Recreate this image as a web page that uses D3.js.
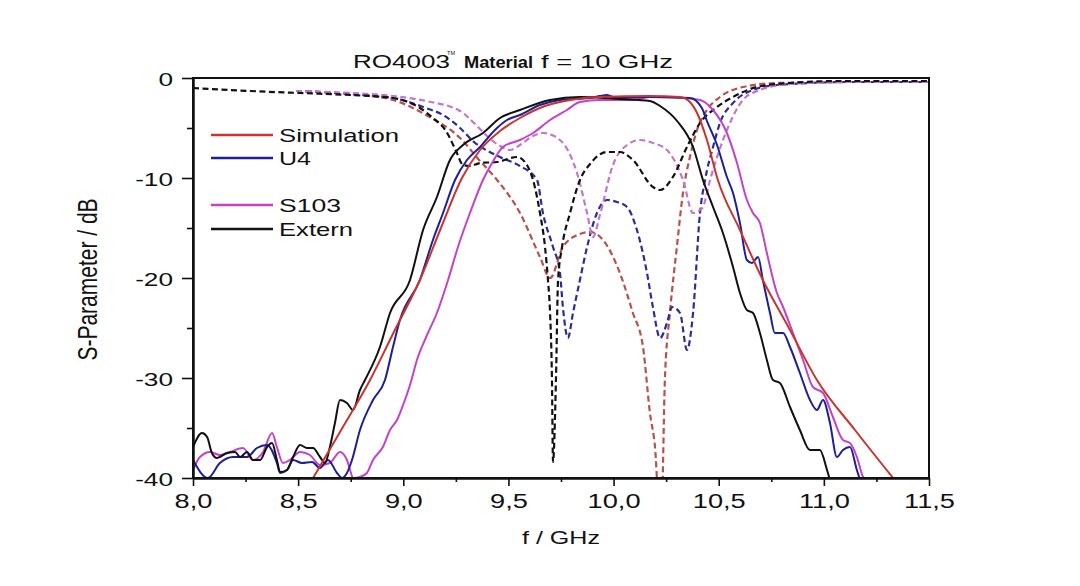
<!DOCTYPE html>
<html><head><meta charset="utf-8">
<script src="https://cdn.jsdelivr.net/npm/d3@7"></script>
<style>body{margin:0;background:#fff}svg{display:block}</style>
</head><body>
<svg id="c" width="1080" height="586"></svg>
<script>
// ---------- data ----------
const xTicks = [8.0, 8.5, 9.0, 9.5, 10.0, 10.5, 11.0, 11.5];
const xMinor = [8.25, 8.75, 9.25, 9.75, 10.25, 10.75, 11.25];
const yTicks = [0, -10, -20, -30, -40];
const yMinor = [-5, -15, -25, -35];
const seriesNames = ["Simulation", "U4", "S103", "Extern"];

// transmission (solid)
const simS21 = [[8.571,-40],[8.699,-35.4],[8.842,-30.2],[8.960,-25.2],[9.079,-20.2],[9.179,-15.0],[9.279,-10.0],[9.365,-7.2],[9.460,-5.3],[9.555,-4.0],[9.674,-2.8],[9.793,-2.2],[9.935,-1.9],[10.173,-1.8],[10.316,-1.9],[10.363,-2.4],[10.397,-3.5],[10.444,-6.2],[10.496,-10.2],[10.601,-15.2],[10.710,-20.2],[10.839,-25.2],[10.967,-30.2],[11.148,-35.2],[11.329,-40]];
const u4S21 = [[8.000,-38.2],[8.071,-40.0],[8.128,-38.5],[8.190,-37.9],[8.257,-37.9],[8.304,-37.0],[8.352,-36.7],[8.399,-38.5],[8.414,-39.5],[8.447,-39.2],[8.476,-38.2],[8.518,-38.5],[8.566,-38.4],[8.604,-39.0],[8.642,-38.2],[8.685,-39.5],[8.709,-40.0],[8.732,-39.5],[8.756,-38.2],[8.794,-35.2],[8.856,-32.2],[8.913,-30.2],[8.951,-26.9],[8.984,-24.2],[9.079,-20.2],[9.141,-16.2],[9.189,-13.5],[9.246,-10.2],[9.303,-8.2],[9.365,-6.9],[9.436,-5.2],[9.493,-4.2],[9.555,-3.7],[9.650,-2.7],[9.745,-2.2],[9.888,-2.0],[9.935,-1.8],[9.969,-1.7],[10.011,-2.0],[10.173,-1.9],[10.363,-2.0],[10.420,-3.0],[10.444,-4.3],[10.492,-6.7],[10.539,-9.9],[10.568,-11.5],[10.601,-14.5],[10.634,-18.2],[10.658,-18.5],[10.687,-17.9],[10.710,-20.2],[10.744,-23.5],[10.767,-25.5],[10.806,-25.5],[10.839,-26.9],[10.886,-29.5],[10.934,-32.2],[10.967,-33.2],[10.996,-32.2],[11.029,-34.5],[11.062,-37.9],[11.091,-37.2],[11.124,-36.9],[11.157,-39.2],[11.172,-40.2]];
const s103S21 = [[8.000,-39.2],[8.033,-37.9],[8.081,-37.4],[8.128,-37.7],[8.176,-37.4],[8.238,-37.0],[8.285,-38.2],[8.333,-37.4],[8.376,-35.5],[8.399,-36.9],[8.428,-38.5],[8.461,-38.2],[8.509,-37.4],[8.556,-37.7],[8.604,-38.7],[8.651,-38.5],[8.699,-37.4],[8.732,-38.2],[8.747,-39.2],[8.761,-40.0],[8.794,-39.9],[8.827,-39.5],[8.856,-38.2],[8.903,-36.9],[8.937,-35.2],[8.970,-34.2],[8.999,-32.7],[9.032,-30.7],[9.065,-28.2],[9.113,-25.7],[9.160,-23.5],[9.213,-20.2],[9.260,-16.9],[9.317,-13.5],[9.379,-10.2],[9.422,-8.5],[9.474,-6.9],[9.555,-6.2],[9.617,-5.5],[9.698,-4.2],[9.778,-3.2],[9.840,-2.4],[9.935,-2.2],[10.092,-2.2],[10.173,-1.9],[10.330,-2.0],[10.411,-2.2],[10.473,-3.2],[10.539,-5.5],[10.587,-8.5],[10.634,-12.2],[10.663,-13.5],[10.696,-14.5],[10.729,-17.5],[10.777,-21.5],[10.806,-22.9],[10.853,-25.5],[10.901,-28.2],[10.948,-30.9],[10.996,-31.5],[11.043,-33.9],[11.091,-36.2],[11.124,-36.5],[11.157,-37.9],[11.186,-39.9],[11.200,-40.4]];
const externS21 = [[8.000,-36.9],[8.043,-35.5],[8.067,-35.9],[8.090,-37.5],[8.114,-38.0],[8.162,-37.5],[8.200,-37.4],[8.224,-37.9],[8.257,-37.4],[8.285,-38.2],[8.319,-38.2],[8.352,-36.9],[8.376,-36.5],[8.399,-38.2],[8.414,-39.4],[8.447,-39.2],[8.476,-37.9],[8.509,-36.7],[8.542,-37.0],[8.571,-37.0],[8.604,-37.9],[8.628,-38.5],[8.651,-36.9],[8.675,-34.5],[8.699,-32.2],[8.732,-32.5],[8.761,-33.2],[8.794,-31.2],[8.818,-30.2],[8.889,-26.9],[8.937,-23.5],[9.032,-20.2],[9.094,-15.2],[9.160,-11.9],[9.222,-8.2],[9.284,-6.7],[9.379,-5.5],[9.460,-4.0],[9.555,-3.2],[9.698,-2.2],[9.840,-1.9],[10.030,-2.1],[10.173,-2.3],[10.221,-2.8],[10.306,-4.4],[10.378,-6.9],[10.425,-10.2],[10.473,-12.9],[10.520,-15.5],[10.568,-18.9],[10.601,-21.5],[10.634,-23.2],[10.663,-23.5],[10.696,-25.5],[10.729,-28.2],[10.758,-30.2],[10.791,-30.5],[10.839,-32.9],[10.886,-35.2],[10.934,-37.2],[10.981,-37.2],[11.015,-39.2],[11.029,-40.2]];

// reflection (dashed)
const simS11 = [[8.490,-1.3],[8.747,-1.6],[8.951,-2.2],[9.108,-3.7],[9.270,-6.0],[9.365,-8.3],[9.446,-10.2],[9.555,-13.5],[9.650,-17.9],[9.698,-20.0],[9.759,-16.9],[9.840,-15.6],[9.888,-15.4],[9.950,-16.2],[10.030,-19.5],[10.092,-23.5],[10.140,-26.9],[10.173,-33.5],[10.197,-36.9],[10.225,-46],[10.244,-30.2],[10.268,-23.5],[10.301,-16.9],[10.330,-11.5],[10.363,-7.9],[10.397,-5.2],[10.444,-3.2],[10.506,-1.9],[10.615,-0.9],[10.777,-0.5],[11.124,-0.4],[11.505,-0.4]];
const u4S11 = [[8.490,-1.3],[8.747,-1.6],[8.951,-2.0],[9.108,-3.0],[9.189,-3.7],[9.270,-5.0],[9.331,-6.3],[9.460,-7.9],[9.555,-8.8],[9.636,-10.2],[9.664,-13.5],[9.712,-16.9],[9.745,-19.5],[9.759,-22.9],[9.783,-26.0],[9.807,-23.5],[9.840,-20.2],[9.874,-16.9],[9.921,-13.5],[9.969,-12.2],[10.016,-12.4],[10.064,-12.9],[10.111,-15.2],[10.159,-19.5],[10.187,-22.9],[10.221,-26.0],[10.254,-24.5],[10.278,-22.9],[10.316,-23.5],[10.349,-27.2],[10.378,-23.5],[10.411,-13.5],[10.435,-10.2],[10.473,-6.9],[10.506,-4.5],[10.568,-2.5],[10.663,-1.2],[10.777,-0.7],[11.124,-0.4],[11.505,-0.4]];
const s103S11 = [[8.490,-1.3],[8.747,-1.5],[8.951,-1.8],[9.108,-2.3],[9.270,-3.3],[9.346,-4.7],[9.393,-5.7],[9.460,-6.8],[9.507,-7.2],[9.555,-6.7],[9.617,-5.8],[9.664,-5.5],[9.745,-6.2],[9.826,-9.5],[9.874,-13.5],[9.902,-15.9],[9.935,-13.7],[9.997,-8.7],[10.064,-6.7],[10.126,-6.2],[10.187,-6.5],[10.254,-7.2],[10.330,-10.2],[10.378,-13.5],[10.411,-13.2],[10.425,-12.9],[10.459,-10.2],[10.539,-5.2],[10.615,-2.2],[10.696,-1.2],[10.839,-0.6],[11.124,-0.4],[11.505,-0.4]];
const externS11 = [[8.000,-1.0],[8.271,-1.3],[8.509,-1.5],[8.747,-1.7],[8.951,-2.0],[9.079,-3.0],[9.141,-4.0],[9.203,-5.3],[9.251,-7.3],[9.284,-8.7],[9.317,-8.8],[9.365,-8.5],[9.446,-8.4],[9.541,-7.9],[9.588,-8.7],[9.617,-10.2],[9.650,-13.5],[9.674,-16.9],[9.688,-20.2],[9.698,-23.5],[9.707,-30.2],[9.712,-38.4],[9.726,-30.2],[9.736,-20.2],[9.755,-16.9],[9.793,-13.5],[9.840,-10.2],[9.888,-8.6],[9.969,-7.4],[10.030,-7.4],[10.092,-8.2],[10.187,-10.9],[10.221,-11.2],[10.282,-9.9],[10.349,-6.9],[10.411,-4.5],[10.492,-2.9],[10.568,-1.9],[10.682,-0.9],[10.839,-0.5],[11.077,-0.3],[11.505,-0.3]];

// ---------- drawing ----------
const FONT = "'Liberation Sans', Arial, sans-serif";
const svg = d3.select("#c");
const x = d3.scaleLinear().domain([8, 11.5]).range([193, 929]);
const y = d3.scaleLinear().domain([-40, 0]).range([478, 78]);

const solidCol = {Simulation:"#c8352e", U4:"#1e1e98", S103:"#c442c8", Extern:"#111111"};
const dashCol  = {Simulation:"#b8504c", U4:"#2c2c9c", S103:"#c276cc", Extern:"#111111"};

svg.append("defs").append("clipPath").attr("id","plot")
  .append("rect").attr("x",193).attr("y",78).attr("width",736).attr("height",400);

const line = d3.line().x(d => x(d[0])).y(d => y(d[1])).curve(d3.curveMonotoneX);
const plot = svg.append("g").attr("clip-path","url(#plot)");

const dashed = [["Simulation",simS11],["U4",u4S11],["S103",s103S11],["Extern",externS11]];
const solid  = [["S103",s103S21],["U4",u4S21],["Extern",externS21],["Simulation",simS21]];

dashed.forEach(([n,d]) => plot.append("path").datum(d).attr("d",line)
  .attr("fill","none").attr("stroke",dashCol[n]).attr("stroke-width",2.2)
  .attr("stroke-dasharray","6,3.5"));
solid.forEach(([n,d]) => plot.append("path").datum(d).attr("d",line)
  .attr("fill","none").attr("stroke",solidCol[n]).attr("stroke-width",2));

// frame
svg.append("rect").attr("x",193).attr("y",78).attr("width",736).attr("height",400)
  .attr("fill","none").attr("stroke","#111").attr("stroke-width",2);

// axes
const fmtX = d => d.toFixed(1).replace(".", ",");
const gx = svg.append("g").attr("transform","translate(0,478)")
  .call(d3.axisBottom(x).tickValues(xTicks).tickSize(8).tickSizeOuter(0).tickFormat(fmtX));
gx.append("g").call(d3.axisBottom(x).tickValues(xMinor).tickSize(4).tickSizeOuter(0).tickFormat(""));
const gy = svg.append("g").attr("transform","translate(193,0)")
  .call(d3.axisLeft(y).tickValues(yTicks).tickSize(11).tickSizeOuter(0).tickFormat(d => String(d)));
gy.append("g").call(d3.axisLeft(y).tickValues(yMinor).tickSize(6).tickSizeOuter(0).tickFormat(""));

[gx, gy].forEach(g => {
  g.selectAll("path.domain").attr("stroke","#111").attr("stroke-width",2);
  g.selectAll(".tick line").attr("stroke","#111").attr("stroke-width",1.6);
  g.attr("font-family", FONT);
});
gx.selectAll(".tick text").attr("y",0).attr("dy",null).attr("fill","#111")
  .attr("font-size",20).attr("text-anchor","middle")
  .attr("transform","translate(0,30) scale(1.36,1)");
gy.selectAll(".tick text").attr("x",0).attr("dy",null).attr("fill","#111")
  .attr("font-size",19).attr("text-anchor","end")
  .attr("transform","translate(-20,7) scale(1.38,1)");

// text helper
function txt(t, xx, yy, size, len, opts = {}) {
  const e = svg.append("text").attr("x",xx).attr("y",yy).text(t)
    .attr("font-family",FONT).attr("font-size",size).attr("fill","#111");
  if (len) e.attr("textLength",len).attr("lengthAdjust","spacingAndGlyphs");
  if (opts.bold) e.attr("font-weight","bold");
  return e;
}

// title
txt("RO4003", 353, 68, 19, 97);
txt("TM", 447, 55, 6, 8);
txt("Material", 464, 68, 16, 69, {bold:true});
txt("f = 10 GHz", 541, 68, 19, 132);

// axis titles
txt("f / GHz", 522, 544, 19, 78);
svg.append("text").text("S-Parameter / dB")
  .attr("font-family",FONT).attr("font-size",21).attr("fill","#111")
  .attr("text-anchor","middle")
  .attr("transform","translate(97,279.5) rotate(-90) scale(1,1.28)");

// legend
const legY = {Simulation:135, U4:158, S103:205, Extern:229};
const legW = {Simulation:120, U4:32, S103:62, Extern:74};
seriesNames.forEach(n => {
  svg.append("line").attr("x1",211).attr("x2",273).attr("y1",legY[n]).attr("y2",legY[n])
    .attr("stroke",solidCol[n]).attr("stroke-width",2.4);
  txt(n, 279, legY[n] + 7, 19, legW[n]);
});
</script>
</body></html>
